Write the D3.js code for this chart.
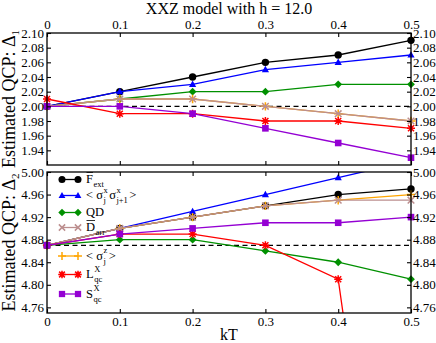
<!DOCTYPE html>
<html>
<head>
<meta charset="utf-8">
<script src="https://cdn.jsdelivr.net/npm/d3@7"></script>
<style>
  html, body { margin: 0; padding: 0; background: #fff; }
  svg { display: block; }
  text { font-family: "Liberation Serif", "Times New Roman", serif; fill: #000; }
</style>
</head>
<body>
<svg id="chart" width="436" height="343"></svg>
<script>
// ---------- data ----------
const kT = [0, 0.1, 0.2, 0.3, 0.4, 0.5];
const xTicks = [0, 0.1, 0.2, 0.3, 0.4, 0.5];

// Panel 1 (Delta_1)
const F1 = [2.00, 2.02, 2.04, 2.06, 2.07, 2.09];
const C1 = [2.00, 2.02, 2.03, 2.05, 2.06, 2.07];
const QD1 = [2.00, 2.01, 2.02, 2.02, 2.03, 2.03];
const D1 = [2.00, 2.01, 2.01, 2.00, 1.99, 1.98];
const Z1 = [2.00, 2.01, 2.01, 2.00, 1.99, 1.98];
const L1 = [2.01, 1.99, 1.99, 1.98, 1.98, 1.97];
const S1 = [2.00, 2.00, 1.99, 1.97, 1.95, 1.93];
const ref1 = 2.00;
const yTicks1 = [1.94, 1.96, 1.98, 2.00, 2.02, 2.04, 2.06, 2.08, 2.10];

// Panel 2 (Delta_2)
const F2 = [4.87, 4.90, 4.92, 4.94, 4.96, 4.97];
const C2 = [4.87, 4.90, 4.93, 4.96, 4.99, 5.02];
const QD2 = [4.87, 4.88, 4.88, 4.86, 4.84, 4.81];
const D2 = [4.87, 4.90, 4.92, 4.94, 4.95, 4.95];
const Z2 = [4.87, 4.90, 4.92, 4.94, 4.95, 4.96];
const L2 = [4.87, 4.89, 4.89, 4.87, 4.81, 3.90];
const S2 = [4.87, 4.89, 4.90, 4.91, 4.91, 4.92];
const ref2 = 4.87;
const yTicks2 = [4.76, 4.80, 4.84, 4.88, 4.92, 4.96, 5.00];

// series meta
const drawOrder = ["F", "C", "QD", "Z", "D", "L", "S"];
const colors = { F: "#000000", C: "#0000ff", QD: "#009000", D: "#bc8f8f", Z: "#ffa500", L: "#ff0000", S: "#9400d3" };
const markers = { F: "circle", C: "triangle", QD: "diamond", D: "cross", Z: "plus", L: "star", S: "square" };
const panel1 = { F: F1, C: C1, QD: QD1, D: D1, Z: Z1, L: L1, S: S1 };
const panel2 = { F: F2, C: C2, QD: QD2, D: D2, Z: Z2, L: L2, S: S2 };

// ---------- layout ----------
const svg = d3.select("#chart");
const left = 47, right = 411;
const p1 = { top: 33, bottom: 165, domain: [1.92, 2.10] };
const p2 = { top: 172, bottom: 313, domain: [4.75, 5.00] };

const x = d3.scaleLinear().domain([0, 0.5]).range([left, right]);
const y1 = d3.scaleLinear().domain(p1.domain).range([p1.bottom, p1.top]);
const y2 = d3.scaleLinear().domain(p2.domain).range([p2.bottom, p2.top]);

const defs = svg.append("defs");
[["clip1", p1], ["clip2", p2]].forEach(([id, p]) => {
  defs.append("clipPath").attr("id", id).append("rect")
    .attr("x", left - 10).attr("y", p.top).attr("width", right - left + 20).attr("height", p.bottom - p.top);
});

function drawMarker(g, type, cx, cy, color, sc) {
  sc = sc || 1;
  const s = 3.3 * sc;
  if (type === "circle") {
    g.append("circle").attr("cx", cx).attr("cy", cy).attr("r", 3.7 * sc).attr("fill", color);
  } else if (type === "triangle") {
    g.append("path").attr("d", `M${cx},${cy - 3.8 * sc}L${cx + 3.6 * sc},${cy + 2.6 * sc}L${cx - 3.6 * sc},${cy + 2.6 * sc}Z`).attr("fill", color);
  } else if (type === "diamond") {
    g.append("path").attr("d", `M${cx},${cy - 3.9 * sc}L${cx + 3.9 * sc},${cy}L${cx},${cy + 3.9 * sc}L${cx - 3.9 * sc},${cy}Z`).attr("fill", color);
  } else if (type === "square") {
    g.append("rect").attr("x", cx - s).attr("y", cy - s).attr("width", 2 * s).attr("height", 2 * s).attr("fill", color);
  } else if (type === "cross") {
    g.append("path").attr("d", `M${cx - s},${cy - s}L${cx + s},${cy + s}M${cx - s},${cy + s}L${cx + s},${cy - s}`)
      .attr("stroke", color).attr("stroke-width", 1.5).attr("fill", "none");
  } else if (type === "plus") {
    const d = 4.2 * sc;
    g.append("path").attr("d", `M${cx - d},${cy}L${cx + d},${cy}M${cx},${cy - d}L${cx},${cy + d}`)
      .attr("stroke", color).attr("stroke-width", 1.5).attr("fill", "none");
  } else if (type === "star") {
    const d = 4 * sc, e = 3 * sc;
    g.append("path").attr("d", `M${cx - d},${cy}L${cx + d},${cy}M${cx},${cy - d}L${cx},${cy + d}M${cx - e},${cy - e}L${cx + e},${cy + e}M${cx - e},${cy + e}L${cx + e},${cy - e}`)
      .attr("stroke", color).attr("stroke-width", 1.5).attr("fill", "none");
  }
}

function drawPanel(p, y, data, ref, yTicks, clipId, showTopLabels, showBottomLabels) {
  const g = svg.append("g");
  g.append("line").attr("x1", left).attr("x2", right).attr("y1", y(ref)).attr("y2", y(ref))
    .attr("stroke", "#000").attr("stroke-width", 1.2).attr("stroke-dasharray", "5,3.5");

  const plot = g.append("g").attr("clip-path", `url(#${clipId})`);
  const line = d3.line().x((d, i) => x(kT[i])).y(d => y(d));
  drawOrder.forEach(k => {
    const vals = data[k];
    plot.append("path").datum(vals).attr("d", line).attr("fill", "none")
      .attr("stroke", colors[k]).attr("stroke-width", 1.3);
    vals.forEach((v, i) => drawMarker(plot, markers[k], x(kT[i]), y(v), colors[k]));
  });

  g.append("rect").attr("x", left).attr("y", p.top).attr("width", right - left).attr("height", p.bottom - p.top)
    .attr("fill", "none").attr("stroke", "#000").attr("stroke-width", 1.3);

  const fmtY = d3.format(".2f");
  const fmtX = v => v === 0 ? "0" : d3.format(".1f")(v);
  const axL = g.append("g").attr("transform", `translate(${left},0)`)
    .call(d3.axisLeft(y).tickValues(yTicks).tickFormat(fmtY).tickSizeInner(-4).tickSizeOuter(0).tickPadding(3));
  const axR = g.append("g").attr("transform", `translate(${right},0)`)
    .call(d3.axisRight(y).tickValues(yTicks).tickFormat(fmtY).tickSizeInner(-4).tickSizeOuter(0).tickPadding(2));
  const axT = g.append("g").attr("transform", `translate(0,${p.top})`)
    .call(d3.axisTop(x).tickValues(xTicks).tickFormat(showTopLabels ? fmtX : "").tickSizeInner(-4).tickSizeOuter(0).tickPadding(4));
  const axB = g.append("g").attr("transform", `translate(0,${p.bottom})`)
    .call(d3.axisBottom(x).tickValues(xTicks).tickFormat(showBottomLabels ? fmtX : "").tickSizeInner(-4).tickSizeOuter(0).tickPadding(4));
  [axL, axR, axT, axB].forEach(a => {
    a.select(".domain").remove();
    a.selectAll("line").attr("stroke", "#000").attr("stroke-width", 1.1);
    a.selectAll("text").style("font-family", "'Liberation Serif', serif").style("font-size", "13px").attr("fill", "#000");
  });
}

drawPanel(p1, y1, panel1, ref1, yTicks1, "clip1", true, false);
drawPanel(p2, y2, panel2, ref2, yTicks2, "clip2", false, true);

// title
svg.append("text").attr("x", 229).attr("y", 14).attr("text-anchor", "middle")
  .style("font-size", "16px").text("XXZ model with h = 12.0");

// x label
svg.append("text").attr("x", 229).attr("y", 340).attr("text-anchor", "middle")
  .style("font-size", "16px").text("kT");

// y labels
function yLabel(cy, sub) {
  const t = svg.append("text").attr("transform", `translate(15,${cy}) rotate(-90)`)
    .attr("text-anchor", "middle").style("font-size", "18px");
  t.append("tspan").text("Estimated QCP: Δ");
  t.append("tspan").attr("dy", 4).style("font-size", "11px").text(sub);
}
yLabel((p1.top + p1.bottom) / 2, "1");
yLabel((p2.top + p2.bottom) / 2, "2");

// legend
const legendRows = [
  { k: "F", y: 179.5, parts: [{ t: "F", over: true }, { sub: "ext" }] },
  { k: "C", y: 195.5, parts: [{ t: "< σ" }, { sup: "x", sub: "j" }, { t: "σ" }, { sup: "x", sub: "j+1" }, { t: " >" }] },
  { k: "QD", y: 212.5, parts: [{ t: "QD" }] },
  { k: "D", y: 227.5, parts: [{ t: "D", over: true }, { sub: "arr" }] },
  { k: "Z", y: 256, parts: [{ t: "< σ" }, { sup: "z", sub: "j" }, { t: " >" }] },
  { k: "L", y: 274.5, parts: [{ t: "L" }, { sup: "X", sub: "qc" }] },
  { k: "S", y: 294, parts: [{ t: "S" }, { sup: "X", sub: "qc" }] }
];
const lg = svg.append("g");
function richText(g, x0, yb, parts) {
  let cx = x0;
  parts.forEach(p => {
    if (p.t !== undefined) {
      const t = g.append("text").attr("x", cx).attr("y", yb).style("font-size", "12.5px").text(p.t);
      const w = t.node().getComputedTextLength();
      if (p.over) {
        g.append("line").attr("x1", cx + 0.5).attr("x2", cx + w).attr("y1", yb - 10.5).attr("y2", yb - 10.5)
          .attr("stroke", "#000").attr("stroke-width", 0.8);
      }
      cx += w + 0.5;
    } else {
      let w = 0;
      if (p.sup) {
        const a = g.append("text").attr("x", cx).attr("y", yb - 6.5).style("font-size", "8.5px").text(p.sup);
        w = Math.max(w, a.node().getComputedTextLength());
      }
      if (p.sub) {
        const b = g.append("text").attr("x", cx).attr("y", yb + 4).style("font-size", "8.5px").text(p.sub);
        w = Math.max(w, b.node().getComputedTextLength());
      }
      cx += w + 1.5;
    }
  });
}
legendRows.forEach(r => {
  const c = colors[r.k];
  lg.append("line").attr("x1", 62).attr("x2", 78).attr("y1", r.y).attr("y2", r.y).attr("stroke", c).attr("stroke-width", 1.3);
  drawMarker(lg, markers[r.k], 62, r.y, c, 0.95);
  drawMarker(lg, markers[r.k], 78, r.y, c, 0.95);
  richText(lg, 86, r.y + 3.5, r.parts);
});
</script>
</body>
</html>
